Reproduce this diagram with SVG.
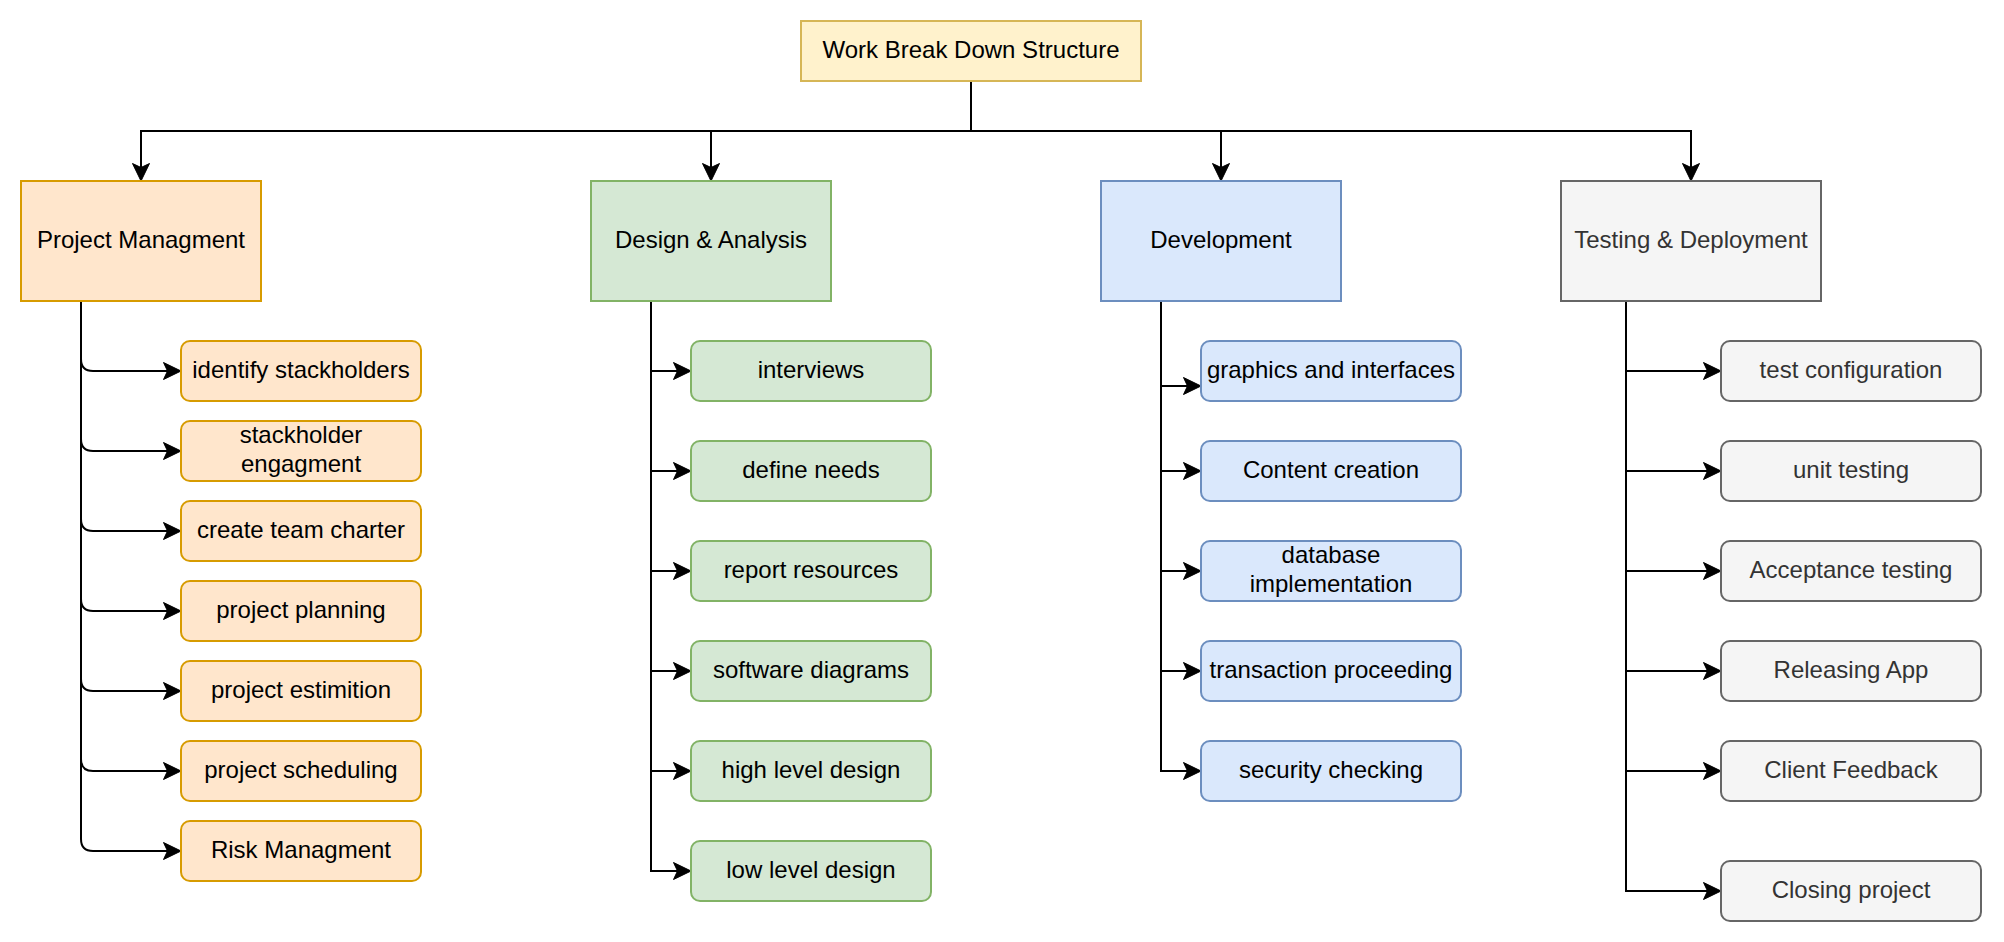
<svg xmlns="http://www.w3.org/2000/svg" width="2004" height="942" viewBox="0 0 2004 942">
<style>
text{font-family:"Liberation Sans",Arial,Helvetica,sans-serif;font-size:24px;text-anchor:middle;fill:#000}
rect{stroke-width:2}
.root{fill:#fff2cc;stroke:#d6b656}
.pm{fill:#ffe6cc;stroke:#d79b00}
.da{fill:#d5e8d4;stroke:#82b366}
.dev{fill:#dae8fc;stroke:#6c8ebf}
.td{fill:#f5f5f5;stroke:#666666}
.gt{fill:#333333}
.edge{fill:none;stroke:#000;stroke-width:2;marker-end:url(#arr)}
</style>
<defs>
<marker id="arr" viewBox="-1 -1 20 20" markerWidth="20" markerHeight="20" refX="8" refY="9" markerUnits="userSpaceOnUse" orient="auto">
<path d="M18 9 L0.5 0.5 L4.5 9 L0.5 17.5 Z" fill="#000" stroke="#000" stroke-width="1" stroke-linejoin="miter"/>
</marker>
</defs>
<rect width="2004" height="942" fill="#fff" stroke="none"/>
<g id="connectors">
<path class="edge" d="M971 81 V131 H141 V171"/>
<path class="edge" d="M971 81 V131 H711 V171"/>
<path class="edge" d="M971 81 V131 H1221 V171"/>
<path class="edge" d="M971 81 V131 H1691 V171"/>
<path class="edge" d="M81 301 V359 Q81 371 93 371 H171"/>
<path class="edge" d="M81 301 V439 Q81 451 93 451 H171"/>
<path class="edge" d="M81 301 V519 Q81 531 93 531 H171"/>
<path class="edge" d="M81 301 V599 Q81 611 93 611 H171"/>
<path class="edge" d="M81 301 V679 Q81 691 93 691 H171"/>
<path class="edge" d="M81 301 V759 Q81 771 93 771 H171"/>
<path class="edge" d="M81 301 V839 Q81 851 93 851 H171"/>
<path class="edge" d="M651 301 V371 H681"/>
<path class="edge" d="M651 301 V471 H681"/>
<path class="edge" d="M651 301 V571 H681"/>
<path class="edge" d="M651 301 V671 H681"/>
<path class="edge" d="M651 301 V771 H681"/>
<path class="edge" d="M651 301 V871 H681"/>
<path class="edge" d="M1161 301 V386 H1191"/>
<path class="edge" d="M1161 301 V471 H1191"/>
<path class="edge" d="M1161 301 V571 H1191"/>
<path class="edge" d="M1161 301 V671 H1191"/>
<path class="edge" d="M1161 301 V771 H1191"/>
<path class="edge" d="M1626 301 V371 H1711"/>
<path class="edge" d="M1626 301 V471 H1711"/>
<path class="edge" d="M1626 301 V571 H1711"/>
<path class="edge" d="M1626 301 V671 H1711"/>
<path class="edge" d="M1626 301 V771 H1711"/>
<path class="edge" d="M1626 301 V891 H1711"/>
</g>
<g id="root"><rect class="root" x="801" y="21" width="340" height="60"/><text x="971" y="57.5">Work Break Down Structure</text></g>
<g id="project-managment"><rect class="pm" x="21" y="181" width="240" height="120"/><text x="141" y="247.5">Project Managment</text></g>
<g id="design-analysis"><rect class="da" x="591" y="181" width="240" height="120"/><text x="711" y="247.5">Design &amp; Analysis</text></g>
<g id="development"><rect class="dev" x="1101" y="181" width="240" height="120"/><text x="1221" y="247.5">Development</text></g>
<g id="testing-deployment"><rect class="td" x="1561" y="181" width="260" height="120"/><text class="gt" x="1691" y="247.5">Testing &amp; Deployment</text></g>
<g id="pm-1"><rect class="pm" x="181" y="341" width="240" height="60" rx="9"/><text x="301" y="377.5">identify stackholders</text></g>
<g id="pm-2"><rect class="pm" x="181" y="421" width="240" height="60" rx="9"/><text x="301" y="443.1">stackholder</text><text x="301" y="471.9">engagment</text></g>
<g id="pm-3"><rect class="pm" x="181" y="501" width="240" height="60" rx="9"/><text x="301" y="537.5">create team charter</text></g>
<g id="pm-4"><rect class="pm" x="181" y="581" width="240" height="60" rx="9"/><text x="301" y="617.5">project planning</text></g>
<g id="pm-5"><rect class="pm" x="181" y="661" width="240" height="60" rx="9"/><text x="301" y="697.5">project estimition</text></g>
<g id="pm-6"><rect class="pm" x="181" y="741" width="240" height="60" rx="9"/><text x="301" y="777.5">project scheduling</text></g>
<g id="pm-7"><rect class="pm" x="181" y="821" width="240" height="60" rx="9"/><text x="301" y="857.5">Risk Managment</text></g>
<g id="da-1"><rect class="da" x="691" y="341" width="240" height="60" rx="9"/><text x="811" y="377.5">interviews</text></g>
<g id="da-2"><rect class="da" x="691" y="441" width="240" height="60" rx="9"/><text x="811" y="477.5">define needs</text></g>
<g id="da-3"><rect class="da" x="691" y="541" width="240" height="60" rx="9"/><text x="811" y="577.5">report resources</text></g>
<g id="da-4"><rect class="da" x="691" y="641" width="240" height="60" rx="9"/><text x="811" y="677.5">software diagrams</text></g>
<g id="da-5"><rect class="da" x="691" y="741" width="240" height="60" rx="9"/><text x="811" y="777.5">high level design</text></g>
<g id="da-6"><rect class="da" x="691" y="841" width="240" height="60" rx="9"/><text x="811" y="877.5">low level design</text></g>
<g id="dev-1"><rect class="dev" x="1201" y="341" width="260" height="60" rx="9"/><text x="1331" y="377.5">graphics and interfaces</text></g>
<g id="dev-2"><rect class="dev" x="1201" y="441" width="260" height="60" rx="9"/><text x="1331" y="477.5">Content creation</text></g>
<g id="dev-3"><rect class="dev" x="1201" y="541" width="260" height="60" rx="9"/><text x="1331" y="563.1">database</text><text x="1331" y="591.9">implementation</text></g>
<g id="dev-4"><rect class="dev" x="1201" y="641" width="260" height="60" rx="9"/><text x="1331" y="677.5">transaction proceeding</text></g>
<g id="dev-5"><rect class="dev" x="1201" y="741" width="260" height="60" rx="9"/><text x="1331" y="777.5">security checking</text></g>
<g id="td-1"><rect class="td" x="1721" y="341" width="260" height="60" rx="9"/><text class="gt" x="1851" y="377.5">test configuration</text></g>
<g id="td-2"><rect class="td" x="1721" y="441" width="260" height="60" rx="9"/><text class="gt" x="1851" y="477.5">unit testing</text></g>
<g id="td-3"><rect class="td" x="1721" y="541" width="260" height="60" rx="9"/><text class="gt" x="1851" y="577.5">Acceptance testing</text></g>
<g id="td-4"><rect class="td" x="1721" y="641" width="260" height="60" rx="9"/><text class="gt" x="1851" y="677.5">Releasing App</text></g>
<g id="td-5"><rect class="td" x="1721" y="741" width="260" height="60" rx="9"/><text class="gt" x="1851" y="777.5">Client Feedback</text></g>
<g id="td-6"><rect class="td" x="1721" y="861" width="260" height="60" rx="9"/><text class="gt" x="1851" y="897.5">Closing project</text></g>
</svg>
